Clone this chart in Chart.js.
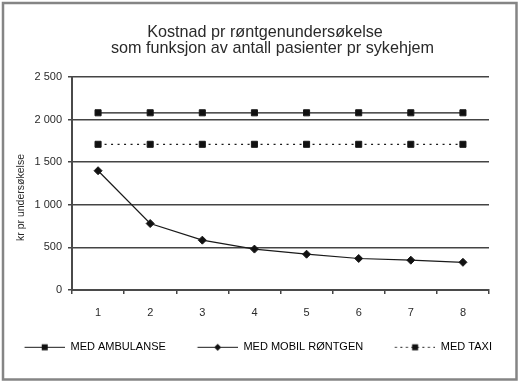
<!DOCTYPE html>
<html>
<head>
<meta charset="utf-8">
<script src="https://cdn.jsdelivr.net/npm/chart.js@4.4.0/dist/chart.umd.min.js"></script>
<style>
html,body{margin:0;padding:0;background:#fff;}
#wrap{width:520px;height:384px;position:relative;}
</style>
</head>
<body>
<div id="wrap"><canvas id="c" width="520" height="384"></canvas></div>
<script>
// ---- data ----
const categories = ['1', '2', '3', '4', '5', '6', '7', '8'];
const ambulanse = [2080, 2080, 2080, 2080, 2080, 2080, 2080, 2080];
const mobilRontgen = [1400, 780, 585, 480, 420, 370, 350, 325];
const taxi = [1710, 1710, 1710, 1710, 1710, 1710, 1710, 1710];
const seriesNames = ['MED AMBULANSE', 'MED MOBIL RØNTGEN', 'MED TAXI'];
const yTicks = [0, 500, 1000, 1500, 2000, 2500];
const yTickLabels = ['0', '500', '1 000', '1 500', '2 000', '2 500'];
const titleLines = ['Kostnad pr røntgenundersøkelse', 'som funksjon av antall pasienter pr sykehjem'];
const yAxisTitle = 'kr pr undersøkelse';

const FONT = '"Liberation Sans", Arial, Helvetica, sans-serif';
const LINE = '#1a1a1a';
const GRID = '#444444';
const TEXT = '#2a2a2a';

// legend symbol: blank lead-in (item spacing) + line with marker
const LEAD = 29.6, SYM = 40.4;
function legendImg(kind, dashed) {
  const c = document.createElement('canvas');
  c.width = 70; c.height = 9;
  const g = c.getContext('2d');
  g.strokeStyle = LINE; g.lineWidth = 1.2;
  if (dashed) g.setLineDash([2, 3.5]);
  g.beginPath(); g.moveTo(LEAD, 4.5); g.lineTo(LEAD + SYM, 4.5); g.stroke();
  g.setLineDash([]);
  g.fillStyle = '#111';
  const cx = LEAD + SYM / 2;
  if (kind === 'rect') {
    g.fillRect(cx - 3, 1.5, 6, 6);
  } else {
    g.beginPath();
    g.moveTo(cx, 1); g.lineTo(cx + 3.5, 4.5); g.lineTo(cx, 8); g.lineTo(cx - 3.5, 4.5);
    g.closePath(); g.fill();
  }
  return c;
}
const legendImages = [legendImg('rect', false), legendImg('diamond', false), legendImg('rect', true)];

const decor = {
  id: 'decor',
  beforeDraw(chart) {
    const ctx = chart.ctx;
    ctx.save();
    ctx.fillStyle = '#fff';
    ctx.fillRect(0, 0, chart.width, chart.height);
    ctx.restore();
  },
  afterDraw(chart) {
    const ctx = chart.ctx;
    ctx.save();
    ctx.strokeStyle = '#858585';
    ctx.lineWidth = 2.5;
    ctx.strokeRect(3, 3, 513.5, 376.5);
    ctx.fillStyle = TEXT;
    ctx.textAlign = 'center';
    ctx.textBaseline = 'alphabetic';
    ctx.font = '16.2px ' + FONT;
    ctx.fillText(titleLines[0], 265, 36.5);
    ctx.fillText(titleLines[1], 272.5, 53.3);
    ctx.translate(21.5, 197.5);
    ctx.rotate(-Math.PI / 2);
    ctx.font = '10.5px ' + FONT;
    ctx.textBaseline = 'middle';
    ctx.fillText(yAxisTitle, 0, 0);
    ctx.restore();
  }
};

new Chart(document.getElementById('c'), {
  type: 'line',
  data: {
    labels: categories,
    datasets: [
      { label: seriesNames[0], data: ambulanse, borderColor: LINE, backgroundColor: '#111',
        borderWidth: 1.2, pointStyle: 'rect', pointRadius: 4.3, pointBorderWidth: 1, tension: 0 },
      { label: seriesNames[1], data: mobilRontgen, borderColor: LINE, backgroundColor: '#111',
        borderWidth: 1.2, pointStyle: 'rectRot', pointRadius: 4, pointBorderWidth: 1, tension: 0 },
      { label: seriesNames[2], data: taxi, borderColor: LINE, backgroundColor: '#111',
        borderWidth: 1.2, borderDash: [2, 4.5], pointStyle: 'rect', pointRadius: 4.3, pointBorderWidth: 1, tension: 0 }
    ]
  },
  options: {
    responsive: false,
    animation: false,
    layout: { padding: { left: -10, right: 23.2, top: 77, bottom: 21.2 } },
    plugins: {
      title: { display: false },
      tooltip: { enabled: false },
      legend: {
        display: true,
        position: 'bottom',
        labels: {
          usePointStyle: true,
          pointStyleWidth: LEAD + SYM + 0.1,
          padding: 2,
          color: TEXT,
          font: { family: FONT, size: 11 },
          generateLabels: (chart) => chart.data.datasets.map((ds, i) => ({
            text: ds.label, pointStyle: legendImages[i], datasetIndex: i,
            hidden: false, lineWidth: 0, strokeStyle: 'rgba(0,0,0,0)', fillStyle: 'rgba(0,0,0,0)'
          }))
        }
      }
    },
    scales: {
      x: {
        type: 'category',
        offset: true,
        grid: { offset: true, drawOnChartArea: false, drawTicks: true, tickLength: 4, color: GRID, lineWidth: 1.5 },
        border: { display: true, color: '#4a4a4a', width: 2 },
        ticks: { color: TEXT, font: { family: FONT, size: 11 }, padding: 12.5, maxRotation: 0 },
        afterFit: (s) => { s.height = 49.8; }
      },
      y: {
        type: 'linear',
        min: 0, max: 2500,
        afterBuildTicks: (s) => { s.ticks = yTicks.map(v => ({ value: v })); },
        grid: { drawOnChartArea: true, drawTicks: true, tickLength: 4, color: GRID, lineWidth: 1.5 },
        border: { display: true, color: '#4a4a4a', width: 2 },
        ticks: {
          color: TEXT, font: { family: FONT, size: 11 }, padding: 6,
          callback: (v) => { const i = yTicks.indexOf(v); return i >= 0 ? yTickLabels[i] : ''; }
        },
        afterFit: (s) => { s.width = 82; }
      },
      yR: {
        type: 'linear',
        position: 'right',
        display: true,
        grid: { display: false, drawTicks: false },
        border: { display: false },
        ticks: { display: false },
        afterFit: (s) => { s.width = 7.8; }
      }
    }
  },
  plugins: [decor]
});
</script>
</body>
</html>
